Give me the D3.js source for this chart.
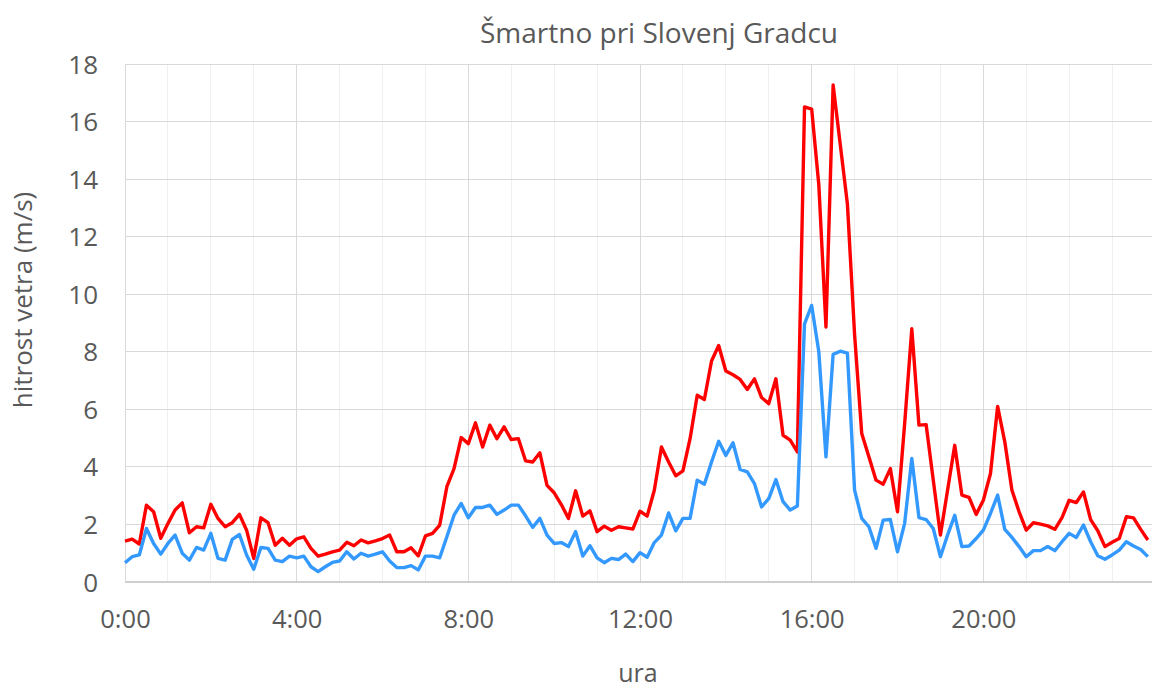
<!DOCTYPE html>
<html>
<head>
<meta charset="utf-8">
<script src="https://cdn.jsdelivr.net/npm/d3@7"></script>
<style>
  body { margin: 0; background: #fff; }
  svg text { font-family: "Open Sans", "Liberation Sans", sans-serif; fill: #595959; }
</style>
</head>
<body>
<div id="chart"></div>
<script>
// 10-minute measurements over one day (minutes from midnight are the index * step)
const stepMinutes = 10;

// upper (red) series - sunki
const gusts = [
  1.42, 1.49, 1.32, 2.67, 2.44, 1.52, 2.03, 2.50, 2.75, 1.71, 1.92, 1.88,
  2.70, 2.21, 1.92, 2.06, 2.35, 1.80, 0.82, 2.23, 2.06, 1.28, 1.52, 1.28,
  1.50, 1.57, 1.17, 0.90, 0.97, 1.05, 1.11, 1.38, 1.26, 1.46, 1.36, 1.43,
  1.51, 1.63, 1.05, 1.05, 1.19, 0.91, 1.60, 1.69, 1.98, 3.31, 3.94, 5.02,
  4.81, 5.53, 4.69, 5.45, 4.98, 5.39, 4.95, 4.98, 4.21, 4.17, 4.49, 3.36,
  3.10, 2.69, 2.21, 3.17, 2.29, 2.47, 1.75, 1.94, 1.80, 1.92, 1.88, 1.84,
  2.46, 2.29, 3.19, 4.69, 4.17, 3.69, 3.86, 4.98, 6.49, 6.34, 7.68, 8.22,
  7.33, 7.20, 7.04, 6.69, 7.06, 6.41, 6.20, 7.06, 5.10, 4.93, 4.52, 16.51,
  16.43, 13.80, 8.86, 17.27, 15.20, 13.13, 8.60, 5.16, 4.35, 3.54, 3.40, 3.94,
  2.44, 5.50, 8.80, 5.45, 5.47, 3.54, 1.63, 3.19, 4.75, 3.02, 2.94, 2.35,
  2.84, 3.77, 6.10, 4.87, 3.19, 2.44, 1.80, 2.06, 2.01, 1.95, 1.83, 2.24,
  2.84, 2.76, 3.13, 2.17, 1.78, 1.23, 1.38, 1.51, 2.27, 2.23, 1.83, 1.46
];

// lower (blue) series - povprecna hitrost
const mean = [
  0.67, 0.88, 0.94, 1.86, 1.34, 0.97, 1.34, 1.63, 1.00, 0.76, 1.20, 1.11,
  1.69, 0.82, 0.76, 1.48, 1.65, 0.94, 0.44, 1.20, 1.17, 0.76, 0.71, 0.90,
  0.84, 0.90, 0.53, 0.36, 0.53, 0.68, 0.73, 1.05, 0.80, 1.00, 0.90, 0.97,
  1.05, 0.73, 0.50, 0.50, 0.57, 0.42, 0.90, 0.90, 0.84, 1.57, 2.32, 2.73,
  2.23, 2.59, 2.59, 2.67, 2.35, 2.50, 2.67, 2.67, 2.30, 1.90, 2.21, 1.63,
  1.34, 1.37, 1.23, 1.75, 0.90, 1.26, 0.84, 0.67, 0.82, 0.78, 0.97, 0.71,
  1.02, 0.86, 1.37, 1.63, 2.40, 1.78, 2.21, 2.21, 3.54, 3.40, 4.17, 4.89,
  4.40, 4.84, 3.91, 3.83, 3.42, 2.61, 2.90, 3.56, 2.79, 2.50, 2.64, 8.97,
  9.61, 8.00, 4.35, 7.91, 8.02, 7.95, 3.19, 2.21, 1.92, 1.17, 2.15, 2.17,
  1.05, 2.04, 4.29, 2.24, 2.17, 1.86, 0.88, 1.63, 2.32, 1.23, 1.25, 1.51,
  1.80, 2.38, 3.02, 1.83, 1.55, 1.23, 0.88, 1.09, 1.09, 1.23, 1.09, 1.40,
  1.69, 1.55, 1.98, 1.40, 0.91, 0.79, 0.94, 1.11, 1.40, 1.25, 1.13, 0.88
];

const yTicks = [0, 2, 4, 6, 8, 10, 12, 14, 16, 18];
const xTickHours = [0, 4, 8, 12, 16, 20];
const title = 'Šmartno pri Slovenj Gradcu';
const xTitle = 'ura';
const yTitle = 'hitrost vetra (m/s)';

const W = 1152, H = 691;
const margin = {left: 125, top: 64, bottom: 109};
const plotW = 1030, plotH = H - margin.top - margin.bottom;

const svg = d3.select('#chart').append('svg')
  .attr('width', W)
  .attr('height', H);

const x = d3.scaleLinear().domain([0, 24 * 60]).range([margin.left, margin.left + plotW]);
const y = d3.scaleLinear().domain([0, 18]).range([margin.top + plotH, margin.top]);

// hourly vertical grid, darker every 4 hours
svg.append('g')
  .selectAll('line')
  .data(d3.range(1, 25))
  .join('line')
  .attr('x1', h => x(h * 60)).attr('x2', h => x(h * 60))
  .attr('y1', y(0)).attr('y2', y(18))
  .attr('stroke', h => h % 4 === 0 ? '#d9d9d9' : '#efefef')
  .attr('stroke-width', 1)
  .attr('shape-rendering', 'crispEdges');

// horizontal grid
svg.append('g')
  .selectAll('line')
  .data(yTicks.slice(1))
  .join('line')
  .attr('x1', x(0)).attr('x2', W)
  .attr('y1', d => y(d)).attr('y2', d => y(d))
  .attr('stroke', '#d9d9d9')
  .attr('shape-rendering', 'crispEdges');

// axis lines
svg.append('line')
  .attr('x1', x(0)).attr('x2', W)
  .attr('y1', y(0)).attr('y2', y(0))
  .attr('stroke', '#bfbfbf').attr('stroke-width', 1.5);
svg.append('line')
  .attr('x1', x(0)).attr('x2', x(0))
  .attr('y1', y(0)).attr('y2', y(18))
  .attr('stroke', '#d9d9d9').attr('shape-rendering', 'crispEdges');

// y tick labels
const yAxis = svg.append('g')
  .attr('transform', `translate(${x(0) - 27},0)`)
  .call(d3.axisLeft(y).tickValues(yTicks).tickSize(0).tickPadding(0));
yAxis.select('.domain').remove();
yAxis.selectAll('text')
  .attr('font-size', 26)
  .attr('dy', '0.35em');

// x tick labels
const xAxis = svg.append('g')
  .attr('transform', `translate(0,${y(0)})`)
  .call(d3.axisBottom(x)
    .tickValues(xTickHours.map(h => h * 60))
    .tickFormat(m => `${m / 60}:00`)
    .tickSize(0).tickPadding(0));
xAxis.select('.domain').remove();
xAxis.selectAll('text')
  .attr('font-size', 25.5)
  .attr('y', 46)
  .attr('dy', 0);

// lines
const line = d3.line()
  .x((d, i) => x(i * stepMinutes))
  .y(d => y(d));

svg.append('path')
  .datum(gusts)
  .attr('fill', 'none')
  .attr('stroke', '#ff0000')
  .attr('stroke-width', 3.4)
  .attr('stroke-linejoin', 'round')
  .attr('d', line);

svg.append('path')
  .datum(mean)
  .attr('fill', 'none')
  .attr('stroke', '#3399ff')
  .attr('stroke-width', 3.4)
  .attr('stroke-linejoin', 'round')
  .attr('d', line);

// titles
svg.append('text')
  .attr('x', 659).attr('y', 43)
  .attr('text-anchor', 'middle')
  .attr('font-size', 28)
  .text(title);

svg.append('text')
  .attr('x', 638).attr('y', 682)
  .attr('text-anchor', 'middle')
  .attr('font-size', 25)
  .text(xTitle);

svg.append('text')
  .attr('transform', 'translate(32,300) rotate(-90)')
  .attr('text-anchor', 'middle')
  .attr('font-size', 26)
  .text(yTitle);
</script>
</body>
</html>
